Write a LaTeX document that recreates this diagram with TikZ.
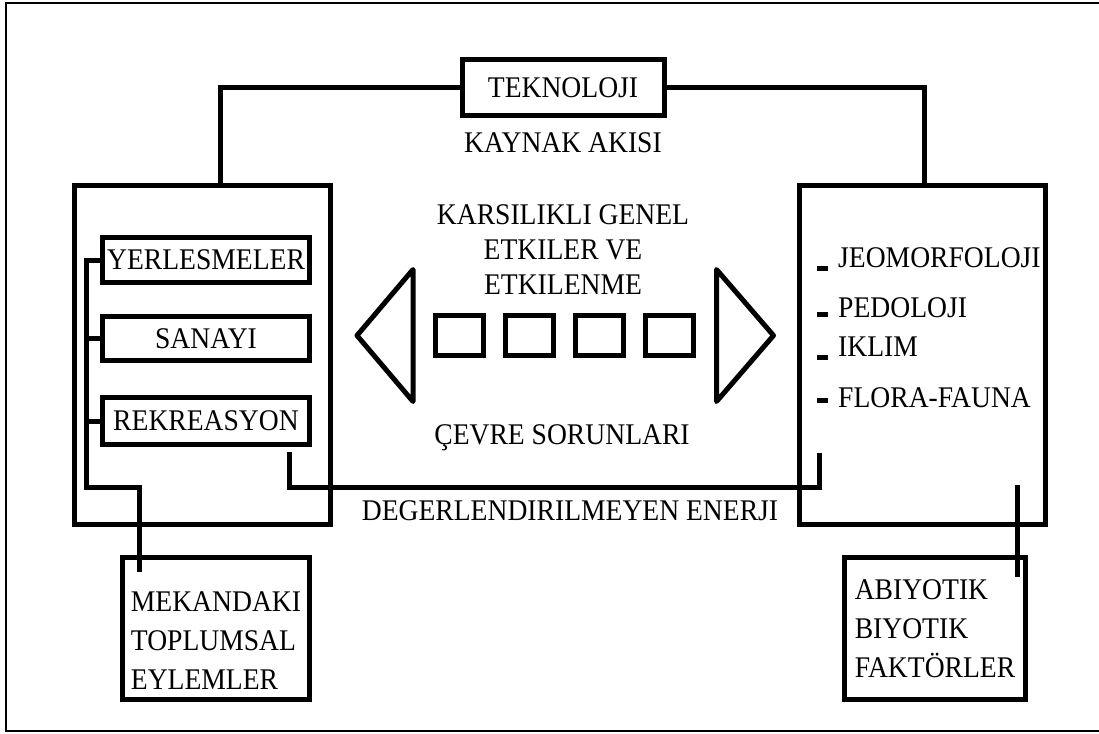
\documentclass[tikz,border=0pt]{standalone}
\usepackage{fontspec}
\setmainfont{Liberation Serif}[FakeStretch=0.92]
\usetikzlibrary{positioning}

\begin{document}
\begin{tikzpicture}[x=1pt, y=-1pt, node distance=17pt,
        every node/.style={font=\fontsize{30}{33}\selectfont},
        box/.style={draw, line width=5pt, inner sep=0pt},
        link/.style={line width=5pt},
        word/.style={inner sep=1pt}]
                \useasboundingbox (0,0) rectangle (1099,733);
                \draw[line width=1.5pt] (1099,3) -- (6,3) -- (6,731) -- (1099,731);
                % top
                \node[box, minimum width=202pt, minimum height=56pt] (tek) at (563,88) {TEKNOLOJI};
                \node[word] (akis) at (563,143) {KAYNAK AKISI};
                % two big boxes
                \node[box, minimum width=256pt, minimum height=339pt] (soc) at (202,354.5) {};
                \node[box, minimum width=246pt, minimum height=339pt] (nat) at (922.5,354.5) {};
                % left side
                \node[box, minimum width=207pt, minimum height=45pt] (yer) at (206,260) {YERLESMELER};
                \node[box, minimum width=207pt, minimum height=44pt, below=29pt of yer] (san) {SANAYI};
                \node[box, minimum width=207pt, minimum height=47pt, below=32pt of san] (rek) {REKREASYON};
                \node[box, minimum width=187pt, minimum height=142pt] (mek) at (216,628.5) {};
                \node[word, align=left, font=\fontsize{30}{39}\selectfont] (mektext) at ([yshift=-12.5pt]mek.center) {MEKANDAKI\\TOPLUMSAL\\EYLEMLER};
                % right side
                \node[word, anchor=west] (jeo) at (837,258) {JEOMORFOLOJI};
                \node[word, anchor=west] (ped) at (837,308) {PEDOLOJI};
                \node[word, anchor=west] (ikl) at (837,347) {IKLIM};
                \node[word, anchor=west] (flo) at (837,398) {FLORA-FAUNA};
                \node[box, minimum width=181pt, minimum height=142pt, align=left,
                    font=\fontsize{30}{39}\selectfont] (abi) at (935,628.5) {ABIYOTIK\\BIYOTIK\\FAKTÖRLER};
                % middle
                \node[word, align=center, font=\fontsize{30}{35}\selectfont] (etki) at (563,250) {KARSILIKLI GENEL\\ETKILER VE\\ETKILENME};
                \node[box, minimum width=48pt, minimum height=40pt] (sq1) at (459.5,335.5) {};
                \node[box, minimum width=48pt, minimum height=40pt, right=of sq1] (sq2) {};
                \node[box, minimum width=48pt, minimum height=40pt, right=of sq2] (sq3) {};
                \node[box, minimum width=48pt, minimum height=40pt, right=of sq3] (sq4) {};
                \node[word] (cevre) at (562,438) {ÇEVRE SORUNLARI};
                \node[word] (enerji) at (570,511) {DEGERLENDIRILMEYEN ENERJI};
                \draw[link, line join=round]
                    ([xshift=-20pt,yshift=66pt]sq1.west) -- ([xshift=-76pt]sq1.west)
                    -- ([xshift=-20pt,yshift=-66pt]sq1.west) -- cycle;
                \draw[link, line join=round]
                    ([xshift=20.5pt,yshift=66pt]sq4.east) -- ([xshift=77.5pt]sq4.east)
                    -- ([xshift=20.5pt,yshift=-66pt]sq4.east) -- cycle;
                % connectors
                \draw[link] (tek.west) -| ([xshift=18pt]soc.north);
                \draw[link] (tek.east) -| ([xshift=1.5pt]nat.north);
                \draw[link] (yer.west) -- ++(-14,0) |- ([xshift=-77pt,yshift=68pt]mek.north)
                    -- ([xshift=-77pt,yshift=-17pt]mek.north);
                \draw[link] (san.west) -- ++(-14,0);
                \draw[link] (rek.west) -- ++(-14,0);
                \draw[link] ([xshift=83pt,yshift=-5pt]rek.south) -- ++(0,35)
                    -| ([xshift=22pt,yshift=-98.5pt]nat.west);
                \draw[link] ([xshift=82pt,yshift=70pt]abi.north) -- ([xshift=82pt,yshift=-22pt]abi.north);
                \draw[link] ([xshift=-20pt,yshift=-10pt]jeo.west) -- ++(11,0);
                \draw[link] ([xshift=-20pt,yshift=-6pt]ped.west) -- ++(11,0);
                \draw[link] ([xshift=-20pt,yshift=-10pt]ikl.west) -- ++(11,0);
                \draw[link] ([xshift=-20pt,yshift=-2pt]flo.west) -- ++(11,0);
            \end{tikzpicture}
\end{document}
